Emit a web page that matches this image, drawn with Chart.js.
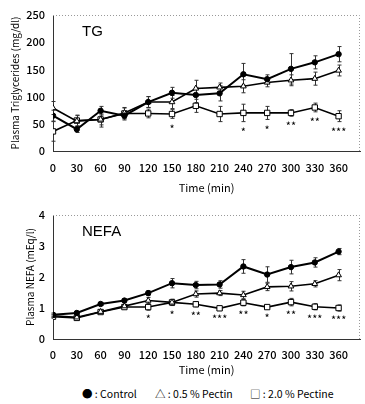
<!DOCTYPE html>
<html>
<head>
<meta charset="utf-8">
<script src="https://cdn.jsdelivr.net/npm/chart.js@4/dist/chart.umd.min.js"></script>
<style>
  html, body { margin: 0; padding: 0; background: #fff; }
  body { width: 365px; height: 404px; position: relative; overflow: hidden; font-family: "Noto Sans CJK JP", "Liberation Sans", sans-serif; }
  .box { position: absolute; left: 0; width: 365px; }
  #legend { position: absolute; top: 386px; left: 0; width: 365px; height: 16px; font-size: 10.5px; color: #000; }
  #legend span { position: absolute; top: 0; white-space: nowrap; }
</style>
</head>
<body>
<div class="box" style="top:0;height:200px;"><canvas id="tg" width="365" height="200"></canvas></div>
<div class="box" style="top:200px;height:180px;"><canvas id="nefa" width="365" height="180"></canvas></div>
<div id="legend">
  <span style="left:82px;">● : Control</span>
  <span style="left:155px;">△ : 0.5 % Pectin</span>
  <span style="left:250px;">□ : 2.0 % Pectine</span>
</div>
<script>
// ---- data ----
const times = [0, 30, 60, 90, 120, 150, 180, 210, 240, 270, 300, 330, 360];
const xTickLabels = [0, 30, 60, 90, 120, 150, 180, 210, 240, 270, 300, 330, 360];
const tgTicks = [0, 50, 100, 150, 200, 250];
const nefaTicks = [0, 1, 2, 3, 4];

const tgControl   = [65, 40, 74, 65, 90, 107, 103, 106, 141, 132, 151, 163, 178];
const tgPectin05  = [79, 55, 58, 70, 90, 90, 115, 117, 119, 126, 130, 133, 148];
const tgPectin20  = [36, 56, 58, 69, 69, 68, 83, 68, 70, 70, 70, 80, 64];
const tgControlErr  = [10, 6, 8, 8, 10, 10, 14, 14, 20, 8, 28, 12, 14];
const tgPectin05Err = [12, 10, 10, 10, 10, 12, 15, 8, 12, 8, 10, 12, 10];
const tgPectin20Err = [18, 10, 14, 10, 8, 8, 12, 14, 16, 12, 6, 8, 10];
const tgStars = ['', '', '', '', '', '*', '', '', '*', '*', '**', '**', '***'];

const nefaControl   = [0.78, 0.84, 1.13, 1.24, 1.48, 1.80, 1.74, 1.76, 2.34, 2.08, 2.32, 2.47, 2.82];
const nefaPectin05  = [0.75, 0.70, 0.88, 1.06, 1.24, 1.18, 1.45, 1.48, 1.42, 1.68, 1.70, 1.78, 2.06];
const nefaPectin20  = [0.72, 0.68, 0.87, 1.03, 1.03, 1.18, 1.12, 0.99, 1.17, 1.03, 1.19, 1.04, 1.00];
const nefaControlErr  = [0.06, 0.05, 0.05, 0.05, 0.08, 0.15, 0.12, 0.12, 0.22, 0.25, 0.22, 0.15, 0.10];
const nefaPectin05Err = [0.05, 0.05, 0.05, 0.05, 0.10, 0.10, 0.10, 0.08, 0.12, 0.12, 0.15, 0.10, 0.18];
const nefaPectin20Err = [0.05, 0.05, 0.05, 0.05, 0.10, 0.10, 0.08, 0.05, 0.10, 0.05, 0.12, 0.10, 0.10];
const nefaStars = ['', '', '', '', '*', '*', '**', '***', '**', '*', '**', '***', '***'];

const FONT = '"Noto Sans CJK JP", "Liberation Sans", sans-serif';

function pts(vals) { return vals.map((v, i) => ({ x: times[i], y: v })); }

const errorBars = {
  id: 'errorBars',
  beforeDatasetsDraw(chart) {
    const ctx = chart.ctx, xs = chart.scales.x, ys = chart.scales.y;
    ctx.save();
    ctx.strokeStyle = '#333';
    ctx.lineWidth = 1;
    chart.data.datasets.forEach(ds => {
      if (!ds.err) return;
      ds.data.forEach((p, i) => {
        const e = ds.err[i];
        const x = Math.round(xs.getPixelForValue(p.x)) + 0.5;
        const y1 = ys.getPixelForValue(p.y + e), y2 = ys.getPixelForValue(p.y - e);
        ctx.beginPath();
        ctx.moveTo(x, y1); ctx.lineTo(x, y2);
        ctx.moveTo(x - 2, y1); ctx.lineTo(x + 2, y1);
        ctx.moveTo(x - 2, y2); ctx.lineTo(x + 2, y2);
        ctx.stroke();
      });
    });
    ctx.restore();
  }
};

const extras = {
  id: 'extras',
  afterDraw(chart, args, opts) {
    const ctx = chart.ctx, a = chart.chartArea, xs = chart.scales.x, ys = chart.scales.y;
    ctx.save();
    // dotted frame top/right
    ctx.strokeStyle = '#999';
    ctx.lineWidth = 1;
    ctx.setLineDash([1, 2]);
    ctx.beginPath();
    ctx.moveTo(a.left, a.top + 0.5); ctx.lineTo(a.right - 0.5, a.top + 0.5); ctx.lineTo(a.right - 0.5, a.bottom);
    ctx.stroke();
    ctx.setLineDash([]);
    // panel label
    ctx.fillStyle = '#000';
    ctx.font = '15px "Liberation Sans", Arial, sans-serif';
    ctx.textBaseline = 'middle';
    ctx.textAlign = 'left';
    ctx.fillText(opts.label, a.left + 29, a.top + 17);
    // significance stars under the 2.0 % series
    const ds = chart.data.datasets[2];
    ctx.font = '11px ' + FONT;
    ctx.textAlign = 'center';
    opts.stars.forEach((s, i) => {
      if (!s) return;
      const p = ds.data[i];
      const x = xs.getPixelForValue(p.x);
      const y = ys.getPixelForValue(p.y - ds.err[i]) + opts.gap;
      ctx.fillText(s, x, y);
    });
    ctx.restore();
  }
};

function makeChart(id, cfg) {
  const tickFont = { family: FONT, size: 11, weight: '500' };
  return new Chart(document.getElementById(id), {
    type: 'line',
    data: {
      datasets: [
        { label: 'Control', data: pts(cfg.c), err: cfg.cErr, borderColor: '#000', backgroundColor: '#000',
          borderWidth: 2, pointStyle: 'circle', pointRadius: 2.7, pointBorderWidth: 1, pointBackgroundColor: '#000', pointBorderColor: '#000' },
        { label: '0.5 % Pectin', data: pts(cfg.p05), err: cfg.p05Err, borderColor: '#000', backgroundColor: '#fff',
          borderWidth: 1.6, pointStyle: 'triangle', pointRadius: 3.3, pointBorderWidth: 1, pointBackgroundColor: '#fff', pointBorderColor: '#000' },
        { label: '2.0 % Pectine', data: pts(cfg.p20), err: cfg.p20Err, borderColor: '#000', backgroundColor: '#fff',
          borderWidth: 1.6, pointStyle: 'rect', pointRadius: 3.8, pointBorderWidth: 1, pointBackgroundColor: '#fff', pointBorderColor: '#000' }
      ]
    },
    options: {
      responsive: false,
      animation: false,
      events: [],
      layout: { padding: { top: cfg.padTop, right: 1, left: 0, bottom: 0 } },
      plugins: {
        legend: { display: false },
        tooltip: { enabled: false },
        extras: { label: cfg.label, stars: cfg.stars, gap: cfg.starGap }
      },
      scales: {
        x: {
          type: 'linear', min: 0, max: 387,
          grid: { display: false, drawTicks: false },
          border: { display: true, color: '#333', width: 1, dash: [2, 1] },
          afterBuildTicks: s => { s.ticks = xTickLabels.map(v => ({ value: v })); },
          ticks: { font: tickFont, color: '#000', padding: cfg.xTickPad, maxRotation: 0, autoSkip: false },
          title: { display: true, text: 'Time (min)', font: { family: FONT, size: 11 }, color: '#000', padding: { top: 0, bottom: cfg.xTitlePad } },
          afterFit: s => { s.height = cfg.xHeight; }
        },
        y: {
          min: cfg.yMin, max: cfg.yMax,
          grid: { display: false, drawTicks: false },
          border: { display: true, color: '#333', width: 1, dash: [2, 1] },
          afterBuildTicks: s => { s.ticks = cfg.yTicks.map(v => ({ value: v })); },
          ticks: { font: tickFont, color: '#000', padding: 8 },
          title: { display: true, text: cfg.yTitle, font: { family: FONT, size: 10 }, color: '#000', padding: { top: cfg.yTitlePad, bottom: 0 } },
          afterFit: s => { s.width = 53; }
        }
      }
    },
    plugins: [errorBars, extras]
  });
}

makeChart('tg', {
  c: tgControl, p05: tgPectin05, p20: tgPectin20,
  cErr: tgControlErr, p05Err: tgPectin05Err, p20Err: tgPectin20Err,
  stars: tgStars, starGap: 10, label: 'TG',
  yMin: 0, yMax: 250, yTicks: tgTicks, yTitle: 'Plasma Triglycerides (mg/dl)', yTitlePad: 9,
  padTop: 15, xHeight: 49, xTickPad: 10, xTitlePad: 6
});

makeChart('nefa', {
  c: nefaControl, p05: nefaPectin05, p20: nefaPectin20,
  cErr: nefaControlErr, p05Err: nefaPectin05Err, p20Err: nefaPectin20Err,
  stars: nefaStars, starGap: 9, label: 'NEFA',
  yMin: 0, yMax: 4, yTicks: nefaTicks, yTitle: 'Plasma NEFA (mEq/l)', yTitlePad: 24,
  padTop: 15, xHeight: 41, xTickPad: 9, xTitlePad: 4
});
</script>
</body>
</html>
